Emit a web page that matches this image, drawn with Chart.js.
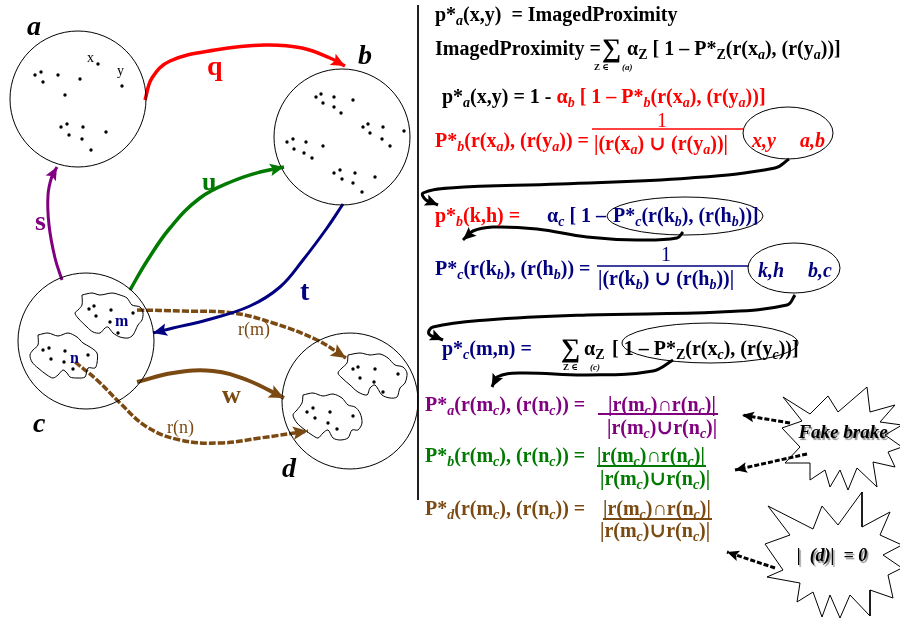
<!DOCTYPE html>
<html>
<head>
<meta charset="utf-8">
<script src="https://cdn.jsdelivr.net/npm/chart.js@4.4.1/dist/chart.umd.min.js"></script>
<style>
  html, body { margin: 0; padding: 0; background: #fff; }
  canvas { display: block; }
</style>
</head>
<body>
<canvas id="diagram" width="900" height="620"></canvas>
<script>
// --- diagram data (page units: x 0..900, y 0..620 top-down) ---
const nodeNames = ['a', 'b', 'c', 'd'];
const nodeX = [78, 342, 86, 350];
const nodeY = [99, 137, 341, 401];
const nodeR = [68, 68, 68, 68];

const dotsA = [[35, 75], [41, 72], [43, 82], [58, 75], [80, 79], [65, 95], [98, 64], [122, 86],
    [61, 127], [67, 124], [69, 135], [83, 127], [82, 139], [106, 132], [91, 150]];
const dotsB = [[316, 97], [321, 94], [323, 103], [334, 97], [334, 107], [341, 113], [353, 100],
    [363, 127], [368, 124], [370, 133], [383, 127], [382, 139], [404, 131], [390, 146],
    [287, 142], [293, 139], [294, 149], [306, 142], [304, 153], [312, 158], [323, 146],
    [334, 173], [340, 170], [342, 179], [355, 173], [353, 183], [375, 177], [362, 192]];
const dotsM = [[89, 309], [94, 306], [96, 316], [111, 310], [110, 322], [118, 333], [133, 313]];
const dotsN = [[43, 350], [49, 348], [51, 359], [65, 351], [64, 362], [73, 369], [88, 355]];
const dotsD1 = [[353, 369], [358, 367], [360, 378], [375, 369], [374, 382], [383, 392], [398, 374]];
const dotsD2 = [[307, 412], [313, 408], [315, 418], [330, 412], [328, 423], [337, 429], [353, 416]];

const blobM = [[82, 295], [92, 293], [100, 295], [112, 293], [120, 295], [127, 298], [132, 305], [140, 307],
    [143, 313], [142, 320], [138, 325], [133, 335], [128, 338], [120, 337], [113, 333], [108, 327],
    [105, 328], [100, 333], [93, 332], [87, 327], [78, 318], [75, 313], [78, 310], [82, 305], [82, 295]];
const blobN = [[38, 335], [48, 333], [58, 336], [68, 333], [77, 337], [83, 343], [90, 347], [97, 353],
    [97, 363], [95, 368], [88, 368], [85, 377], [77, 378], [70, 377], [67, 373], [63, 370], [58, 375],
    [53, 378], [47, 375], [38, 368], [32, 362], [30, 355], [33, 350], [38, 345], [38, 335]];
const blobD1 = [[348, 355], [360, 353], [370, 355], [380, 354], [388, 358], [395, 365], [403, 367],
    [407, 373], [405, 383], [400, 388], [397, 397], [390, 398], [382, 395], [375, 385], [370, 388],
    [367, 395], [358, 392], [350, 385], [342, 378], [338, 373], [342, 368], [347, 363], [348, 355]];
const blobD2 = [[303, 395], [313, 393], [323, 396], [333, 394], [342, 398], [348, 405], [355, 407],
    [360, 413], [362, 423], [358, 430], [352, 430], [348, 438], [340, 440], [333, 438], [328, 430],
    [323, 433], [318, 438], [312, 435], [305, 430], [297, 423], [293, 415], [297, 410], [302, 403], [303, 395]];

const edgeQ = [[145, 100], [152, 78], [170, 61], [215, 50], [265, 45], [302, 48], [330, 58], [345, 66]];
const edgeU = [[130, 290], [147, 261], [170, 228], [200, 198], [233, 181], [260, 172], [284, 167]];
const edgeS = [[62, 280], [55, 258], [49, 225], [48, 195], [52, 176], [57, 167]];
const edgeT = [[343, 204], [327, 228], [303, 260], [280, 287], [250, 306], [207, 320], [173, 328], [153, 333]];
const edgeW = [[137, 382], [173, 373], [213, 371], [247, 380], [284, 398]];
const edgeRM = [[137, 310], [183, 311], [233, 313], [273, 323], [317, 340], [346, 358]];
const edgeRN = [[75, 362], [97, 380], [120, 403], [147, 427], [180, 440], [220, 443], [260, 438], [308, 431]];

const flow1 = [[789, 159], [775, 168], [690, 178], [560, 184], [450, 188], [423, 193], [426, 200], [438, 205]];
const flow2 = [[683, 232], [677, 238], [637, 240], [587, 237], [537, 229], [493, 227], [473, 231], [463, 240]];
const flow3 = [[795, 295], [787, 305], [720, 312], [587, 315], [487, 320], [433, 327], [429, 334], [443, 340]];
const flow4 = [[673, 360], [653, 371], [587, 375], [520, 373], [497, 377], [492, 387]];

const starFake = [[782, 428], [802, 421], [783, 397], [810, 414], [828, 396], [838, 412], [867, 387],
    [870, 412], [895, 405], [880, 422], [902, 425], [885, 435], [902, 447], [888, 452], [895, 467],
    [873, 462], [877, 487], [857, 468], [848, 490], [840, 470], [830, 487], [825, 470], [810, 480],
    [810, 463], [785, 463], [800, 447], [782, 428]];
const starZero = [[768, 506], [813, 529], [822, 506], [838, 525], [862, 492], [862, 527], [890, 512],
    [880, 535], [902, 545], [883, 555], [902, 568], [888, 575], [893, 598], [870, 590], [870, 616],
    [850, 595], [840, 618], [830, 595], [822, 617], [813, 592], [797, 602], [800, 583], [767, 577],
    [783, 570], [765, 544], [790, 535], [768, 506]];
const pointer1 = [[790, 423], [742, 415]];
const pointer2 = [[807, 454], [735, 470]];
const pointer3 = [[775, 568], [727, 552]];

const divider = [[418, 5], [418, 500]];
const fractionBars = [
    [[592, 129], [743, 129]],
    [[597, 266], [748, 266]],
    [[598, 414], [718, 414]],
    [[597, 466], [706, 466]],
    [[603, 519], [712, 519]],
];
// ellipses: centre x, centre y, radius x, radius y
const ellipses = [[788, 133, 45, 26], [685, 216, 78, 19], [794, 268, 46, 25], [710, 343, 88, 20]];

const RED = '#ff0000';
const NAVY = '#000080';
const PURPLE = '#800080';
const GREEN = '#007a00';
const BROWN = '#7b4a12';
const BLACK = '#000000';
const SERIF = '"Liberation Serif", "Times New Roman", "DejaVu Serif", serif';
const F = 20; // formula text size

// text: [x, y, parts, size, options]
const notes = [
    [27, 35, [['a', BLACK, true]], 28],
    [358, 64, [['b', BLACK, true]], 28],
    [33, 432, [['c', BLACK, true]], 28],
    [282, 477, [['d', BLACK, true]], 28],
    [87, 62, [['x', BLACK]], 14, { weight: 'normal' }],
    [117, 75, [['y', BLACK]], 14, { weight: 'normal' }],
    [207, 75, [['q', RED]], 28],
    [202, 190, [['u', GREEN]], 26],
    [35, 230, [['s', PURPLE]], 28],
    [300, 300, [['t', NAVY]], 28],
    [222, 403, [['w', BROWN]], 26],
    [115, 326, [['m', NAVY]], 16],
    [70, 363, [['n', NAVY]], 16],
    [238, 335, [['r(m)', BROWN]], 18, { weight: 'normal' }],
    [167, 433, [['r(n)', BROWN]], 18, { weight: 'normal' }],

    [435, 21, [['p*_a(x,y)  = ImagedProximity', BLACK]], F],
    [435, 55, [['ImagedProximity =', BLACK]], F],
    [602, 57, [['∑', BLACK]], 27],
    [594, 70, [['Z ∈', BLACK]], 9],
    [622, 70, [['(a)', BLACK, true]], 9],
    [627, 55, [['α_Z [ 1 – P*_Z(r(x_a), (r(y_a))]', BLACK]], F],
    [442, 103, [['p*_a(x,y) = 1 - ', BLACK], ['α_b [ 1 – P*_b(r(x_a), (r(y_a))]', RED]], F],
    [435, 147, [['P*_b(r(x_a), (r(y_a)) =', RED]], F],
    [662, 127, [['1', RED]], F, { weight: 'normal', align: 'center' }],
    [594, 150, [['|(r(x_a) ∪ (r(y_a))|', RED]], F],
    [752, 147, [['x,y', RED, true]], F],
    [800, 147, [['a,b', RED, true]], F],

    [435, 222, [['p*_b(k,h) =', RED]], F],
    [547, 222, [['α_c [ 1 –', NAVY]], F],
    [613, 222, [['P*_c(r(k_b), (r(h_b))]', NAVY]], F],
    [435, 275, [['P*_c(r(k_b), (r(h_b)) =', NAVY]], F],
    [666, 261, [['1', NAVY]], F, { weight: 'normal', align: 'center' }],
    [598, 285, [['|(r(k_b) ∪ (r(h_b))|', NAVY]], F],
    [758, 277, [['k,h', NAVY, true]], F],
    [808, 277, [['b,c', NAVY, true]], F],

    [442, 355, [['p*_c(m,n) =', NAVY]], F],
    [561, 357, [['∑', BLACK]], 27],
    [563, 370, [['Z ∈', BLACK]], 9],
    [590, 370, [['(c)', BLACK, true]], 9],
    [584, 355, [['α_Z', BLACK]], F],
    [612, 355, [['[ 1 – P*_Z(r(x_c), (r(y_c))]', BLACK]], F],

    [425, 411, [['P*_a(r(m_c), (r(n_c)) =', PURPLE]], F],
    [608, 411, [['|r(m_c)∩r(n_c)|', PURPLE]], F],
    [607, 434, [['|r(m_c)∪r(n_c)|', PURPLE]], F],
    [425, 462, [['P*_b(r(m_c), (r(n_c)) =', GREEN]], F],
    [597, 462, [['|r(m_c)∩r(n_c)|', GREEN]], F],
    [600, 485, [['|r(m_c)∪r(n_c)|', GREEN]], F],
    [425, 515, [['P*_d(r(m_c), (r(n_c)) =', BROWN]], F],
    [603, 515, [['|r(m_c)∩r(n_c)|', BROWN]], F],
    [600, 537, [['|r(m_c)∪r(n_c)|', BROWN]], F],

    [843, 438, [['Fake brake', BLACK, true]], 19, { align: 'center', shadow: true }],
    [832, 561, [['|  (d)|  = 0', BLACK, true]], 18, { align: 'center', shadow: true }],
];

const toXY = (pts) => pts.map(([x, y]) => ({ x, y }));

function path(pts, color, width, extra = {}) {
    return {
        type: 'line',
        data: toXY(pts),
        borderColor: color,
        borderWidth: width,
        pointRadius: 0,
        tension: 0.4,
        fill: false,
        clip: false,
        ...extra,
    };
}

function dots(pts) {
    return {
        type: 'scatter',
        data: toXY(pts),
        pointRadius: 1.7,
        backgroundColor: BLACK,
        borderWidth: 0,
        clip: false,
    };
}

// split "P*_b(r(x_a)" into normal runs and one-letter subscripts
function runs(str) {
    const out = [];
    let buf = '';
    for (let i = 0; i < str.length; i++) {
        if (str[i] === '_' && i + 1 < str.length) {
            if (buf) { out.push({ t: buf, sub: false }); buf = ''; }
            out.push({ t: str[i + 1], sub: true });
            i++;
        } else {
            buf += str[i];
        }
    }
    if (buf) out.push({ t: buf, sub: false });
    return out;
}

function drawRich(ctx, x, y, parts, size, opt) {
    const weight = opt.weight || 'bold';
    const pieces = [];
    parts.forEach(([str, color, italic]) => {
        runs(str).forEach((r) => {
            let font;
            if (r.sub) {
                const it = /[a-z]/.test(r.t) ? 'italic ' : '';
                font = `${it}bold ${Math.round(size * 0.68)}px ${SERIF}`;
            } else {
                font = `${italic ? 'italic ' : ''}${weight} ${size}px ${SERIF}`;
            }
            ctx.font = font;
            pieces.push({ t: r.t, sub: r.sub, color, font, w: ctx.measureText(r.t).width });
        });
    });
    const total = pieces.reduce((s, p) => s + p.w, 0);
    let cx = x;
    if (opt.align === 'center') cx = x - total / 2;
    if (opt.align === 'right') cx = x - total;
    ctx.textBaseline = 'alphabetic';
    ctx.textAlign = 'left';
    pieces.forEach((p) => {
        ctx.font = p.font;
        ctx.fillStyle = p.color;
        ctx.fillText(p.t, cx, y + (p.sub ? size * 0.22 : 0));
        cx += p.w;
    });
}

const arrowHeads = {
    id: 'arrowHeads',
    afterDatasetsDraw(chart) {
        const ctx = chart.ctx;
        chart.data.datasets.forEach((ds, i) => {
            if (!ds.arrow) return;
            const pts = chart.getDatasetMeta(i).data;
            const end = pts[pts.length - 1];
            let fx = end.cp1x, fy = end.cp1y;
            if (fx === undefined || Math.hypot(end.x - fx, end.y - fy) < 1) {
                fx = pts[pts.length - 2].x;
                fy = pts[pts.length - 2].y;
            }
            const ang = Math.atan2(end.y - fy, end.x - fx);
            const len = ds.arrow;
            const half = len * 0.45;
            ctx.save();
            ctx.translate(end.x, end.y);
            ctx.rotate(ang);
            ctx.beginPath();
            ctx.moveTo(0, 0);
            ctx.lineTo(-len, -half);
            ctx.lineTo(-len * 0.8, 0);
            ctx.lineTo(-len, half);
            ctx.closePath();
            ctx.fillStyle = ds.borderColor;
            ctx.fill();
            ctx.restore();
        });
    },
};

const annotations = {
    id: 'annotations',
    afterDatasetsDraw(chart) {
        const ctx = chart.ctx;
        const sx = chart.scales.x;
        const sy = chart.scales.y;
        ctx.save();
        ctx.strokeStyle = BLACK;
        ctx.lineWidth = 1;
        ellipses.forEach(([x, y, rx, ry]) => {
            const px = sx.getPixelForValue(x);
            const py = sy.getPixelForValue(y);
            const prx = Math.abs(sx.getPixelForValue(x + rx) - px);
            const pry = Math.abs(sy.getPixelForValue(y + ry) - py);
            ctx.beginPath();
            ctx.ellipse(px, py, prx, pry, 0, 0, Math.PI * 2);
            ctx.stroke();
        });
        notes.forEach(([x, y, parts, size, opt = {}]) => {
            ctx.save();
            if (opt.shadow) {
                ctx.shadowColor = 'rgba(0,0,0,0.45)';
                ctx.shadowOffsetX = 1.5;
                ctx.shadowOffsetY = 1.5;
                ctx.shadowBlur = 1;
            }
            drawRich(ctx, sx.getPixelForValue(x), sy.getPixelForValue(y), parts, size, opt);
            ctx.restore();
        });
        ctx.restore();
    },
};

document.addEventListener('DOMContentLoaded', () => {
    const canvas = document.getElementById('diagram');

    const datasets = [
        {
            type: 'bubble',
            label: 'nodes',
            data: nodeNames.map((name, i) => ({ x: nodeX[i], y: nodeY[i], r: nodeR[i] })),
            backgroundColor: 'rgba(0,0,0,0)',
            borderColor: BLACK,
            borderWidth: 1,
            clip: false,
        },
        path(blobM, BLACK, 1, { tension: 0.3 }),
        path(blobN, BLACK, 1, { tension: 0.3 }),
        path(blobD1, BLACK, 1, { tension: 0.3 }),
        path(blobD2, BLACK, 1, { tension: 0.3 }),
        dots(dotsA), dots(dotsB), dots(dotsM), dots(dotsN), dots(dotsD1), dots(dotsD2),
        path(edgeQ, RED, 3.5, { arrow: 14 }),
        path(edgeU, GREEN, 3.5, { arrow: 14 }),
        path(edgeS, PURPLE, 3, { arrow: 13 }),
        path(edgeT, NAVY, 3, { arrow: 14 }),
        path(edgeW, BROWN, 4, { arrow: 15 }),
        path(edgeRM, BROWN, 3.5, { arrow: 15, borderDash: [7, 2] }),
        path(edgeRN, BROWN, 3.5, { arrow: 15, borderDash: [7, 2] }),
        path(flow1, BLACK, 3, { arrow: 13 }),
        path(flow2, BLACK, 3, { arrow: 13 }),
        path(flow3, BLACK, 3, { arrow: 13 }),
        path(flow4, BLACK, 3, { arrow: 13 }),
        path(starFake, BLACK, 1, { tension: 0 }),
        path(starZero, BLACK, 1, { tension: 0 }),
        path(pointer1, BLACK, 3, { tension: 0, arrow: 12, borderDash: [5, 2] }),
        path(pointer2, BLACK, 3, { tension: 0, arrow: 12, borderDash: [5, 2] }),
        path(pointer3, BLACK, 3, { tension: 0, arrow: 12, borderDash: [5, 2] }),
        path(divider, BLACK, 1, { tension: 0 }),
        path(fractionBars[0], RED, 1.5, { tension: 0 }),
        path(fractionBars[1], NAVY, 1.5, { tension: 0 }),
        path(fractionBars[2], PURPLE, 2, { tension: 0 }),
        path(fractionBars[3], GREEN, 2, { tension: 0 }),
        path(fractionBars[4], BROWN, 2, { tension: 0 }),
    ];

    new Chart(canvas, {
        type: 'scatter',
        data: { datasets },
        options: {
            responsive: false,
            animation: false,
            events: [],
            layout: { padding: 0, autoPadding: false },
            scales: {
                x: { type: 'linear', min: 0, max: 900, display: false },
                y: { type: 'linear', min: 0, max: 620, reverse: true, display: false },
            },
            plugins: {
                legend: { display: false },
                tooltip: { enabled: false },
            },
        },
        plugins: [arrowHeads, annotations],
    });
});
</script>
</body>
</html>
